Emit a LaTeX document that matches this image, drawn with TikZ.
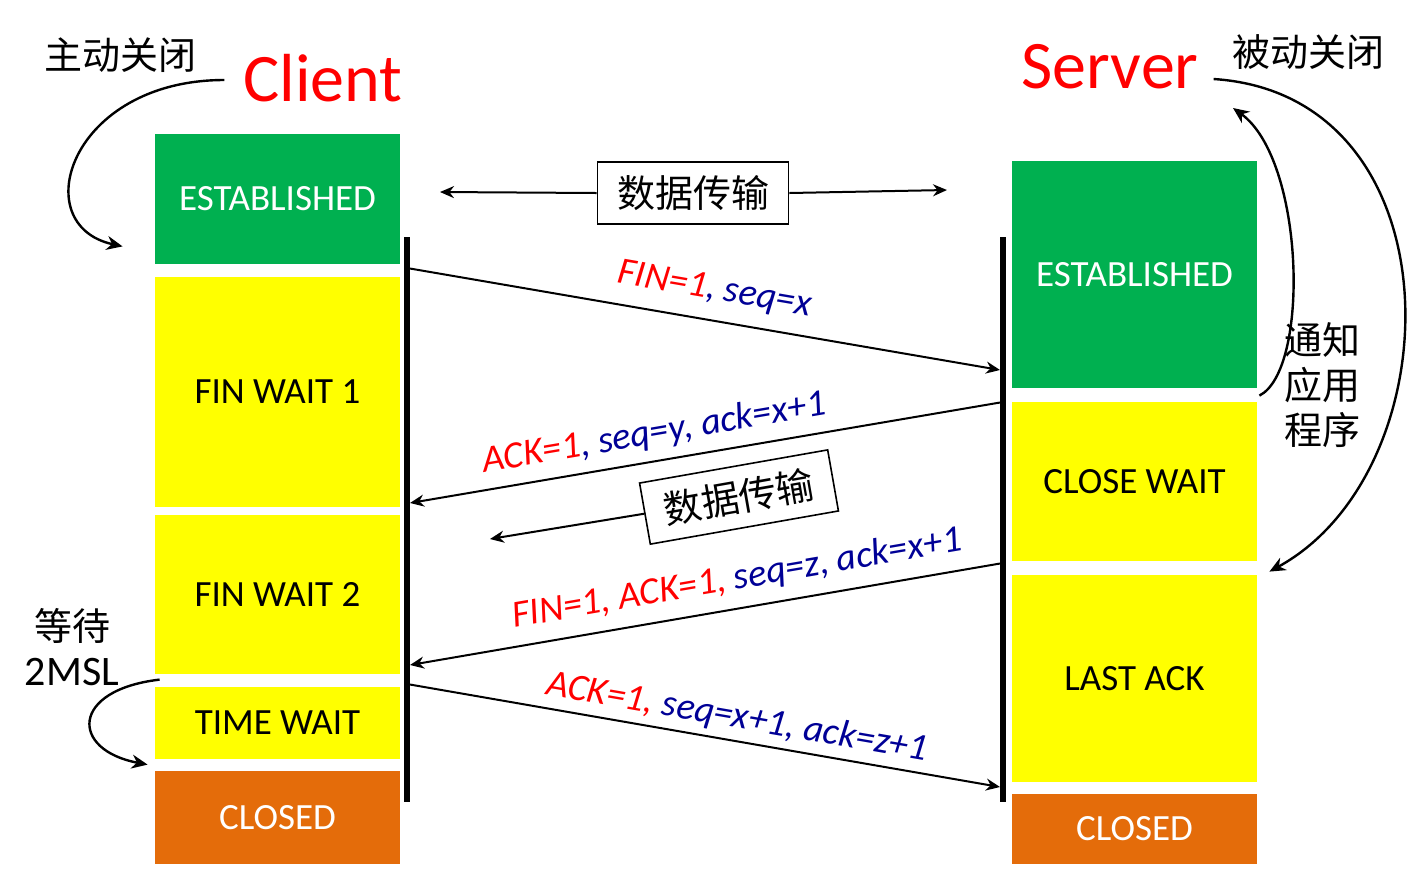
\documentclass[tikz,border=0pt]{standalone}
\usepackage{fontspec}
\setmainfont{Carlito}
\newfontfamily\cjk{Noto Sans CJK SC}
\usetikzlibrary{arrows.meta}
\definecolor{estgreen}{RGB}{0,176,80}
\definecolor{waityellow}{RGB}{255,255,0}
\definecolor{closedorange}{RGB}{228,108,10}
\definecolor{flagred}{RGB}{255,0,0}
\definecolor{numblue}{RGB}{0,0,150}
\tikzset{
  state/.style={minimum width=122.5pt, inner sep=0pt, font=\fontsize{18.5}{22}\selectfont},
  est/.style={state, fill=estgreen, text=white},
  wait/.style={state, fill=waityellow},
  closed/.style={state, fill=closedorange, text=white},
  msg/.style={line width=1pt, -{Stealth[length=7pt,width=6pt]}},
  lbl/.style={sloped, above, inner sep=1pt, font=\fontsize{19}{22}\selectfont\itshape},
  bendarrow/.style={line width=1.2pt, -{Stealth[length=8pt,width=7pt]}},
  cn/.style={font=\cjk\fontsize{19}{22.5}\selectfont, align=center},
  databox/.style={cn, draw, line width=0.8pt, minimum width=95.5pt, minimum height=31pt, inner sep=0pt},
}
\begin{document}
\begin{tikzpicture}[x=0.5pt, y=-0.5pt]
\useasboundingbox (0,0) rectangle (1408,875);

\node[font=\fontsize{34}{40}\selectfont, text=flagred] (client) at (323,78) {Client};
\node[font=\fontsize{34}{40}\selectfont, text=flagred] (server) at (1110,67) {Server};
\node[cn] (active) at (120,55) {主动关闭};
\node[cn] (passive) at (1308,52) {被动关闭};

\node[est, minimum height=65pt] (cest) at (277.5,199) {ESTABLISHED};
\node[wait, minimum height=115pt] (cfw1) at (277.5,392) {FIN WAIT 1};
\node[wait, minimum height=79.5pt] (cfw2) at (277.5,594.5) {FIN WAIT 2};
\node[wait, minimum height=36pt] (ctw) at (277.5,723) {TIME WAIT};
\node[closed, minimum height=46.5pt] (ccl) at (277.5,817.5) {CLOSED};

\node[est, minimum height=113.5pt] (sest) at (1134.5,274.5) {ESTABLISHED};
\node[wait, minimum height=79.5pt] (scw) at (1134.5,481.5) {CLOSE WAIT};
\node[wait, minimum height=103.5pt] (sla) at (1134.5,678.5) {LAST ACK};
\node[closed, minimum height=35pt] (scl) at (1134.5,829) {CLOSED};

\draw[line width=3pt] (407,237) coordinate (ctop) -- (407,802) coordinate (cbot);
\draw[line width=3pt] (1003,237) coordinate (stop) -- (1003,802) coordinate (sbot);

\node[databox] (data1) at (693,193) {数据传输};
\coordinate (dl) at (440,192);
\coordinate (dr) at (947,190);
\draw[msg] (data1.west) -- (dl);
\draw[msg] (data1.east) -- (dr);

\path (407,268) coordinate (c1) (1000,370) coordinate (s1)
      (1003,402) coordinate (s2) (410,503) coordinate (c2)
      (1003,563) coordinate (s3) (410,665) coordinate (c3)
      (407,684) coordinate (c4) (1000,787) coordinate (s4);

\draw[msg] (c1) -- (s1) node[lbl, pos=0.51, above=6pt]
  {\textcolor{flagred}{FIN=1}\textcolor{numblue}{, seq=x}};
\draw[msg] (s2) -- (c2) node[lbl, pos=0.58, above=4pt]
  {\textcolor{flagred}{ACK=1}\textcolor{numblue}{, seq=y, ack=x+1}};
\draw[msg] (s3) -- (c3) node[lbl, pos=0.44, above=5pt]
  {\textcolor{flagred}{FIN=1, ACK=1,} \textcolor{numblue}{seq=z, ack=x+1}};
\draw[msg] (c4) -- (s4) node[lbl, pos=0.55, above=2pt]
  {\textcolor{flagred}{ACK=1,} \textcolor{numblue}{seq=x+1, ack=z+1}};

\node[databox, rotate=10] (data2) at (739,497) {数据传输};
\coordinate (dl2) at (490,539);
\draw[msg] (data2.west) -- (dl2);

\node[cn] (notify) at (1322,385) {通知\\应用\\程序};
\node[cn] (wait2msl) at (72,647) {等待\\{\rmfamily\fontsize{21}{22.5}\selectfont 2MSL}};

\draw[bendarrow] ([xshift=-6pt,yshift=-1pt]client.west) .. controls (70,80) and (25,225) .. ([xshift=-16pt,yshift=9pt]cest.south west);
\draw[bendarrow] ([xshift=4pt,yshift=-6pt]server.east) .. controls (1460,95) and (1455,470) .. ([xshift=6pt,yshift=1.5pt]sla.north east);
\draw[bendarrow] ([xshift=1pt,yshift=3pt]scw.north east) .. controls (1310,370) and (1305,160) .. (1233,108) coordinate (back);
\draw[bendarrow] ([xshift=2.5pt,yshift=3.5pt]ctw.north west) .. controls (70,690) and (70,750) .. ([xshift=-3.5pt,yshift=3pt]ccl.north west);
\end{tikzpicture}
\end{document}
